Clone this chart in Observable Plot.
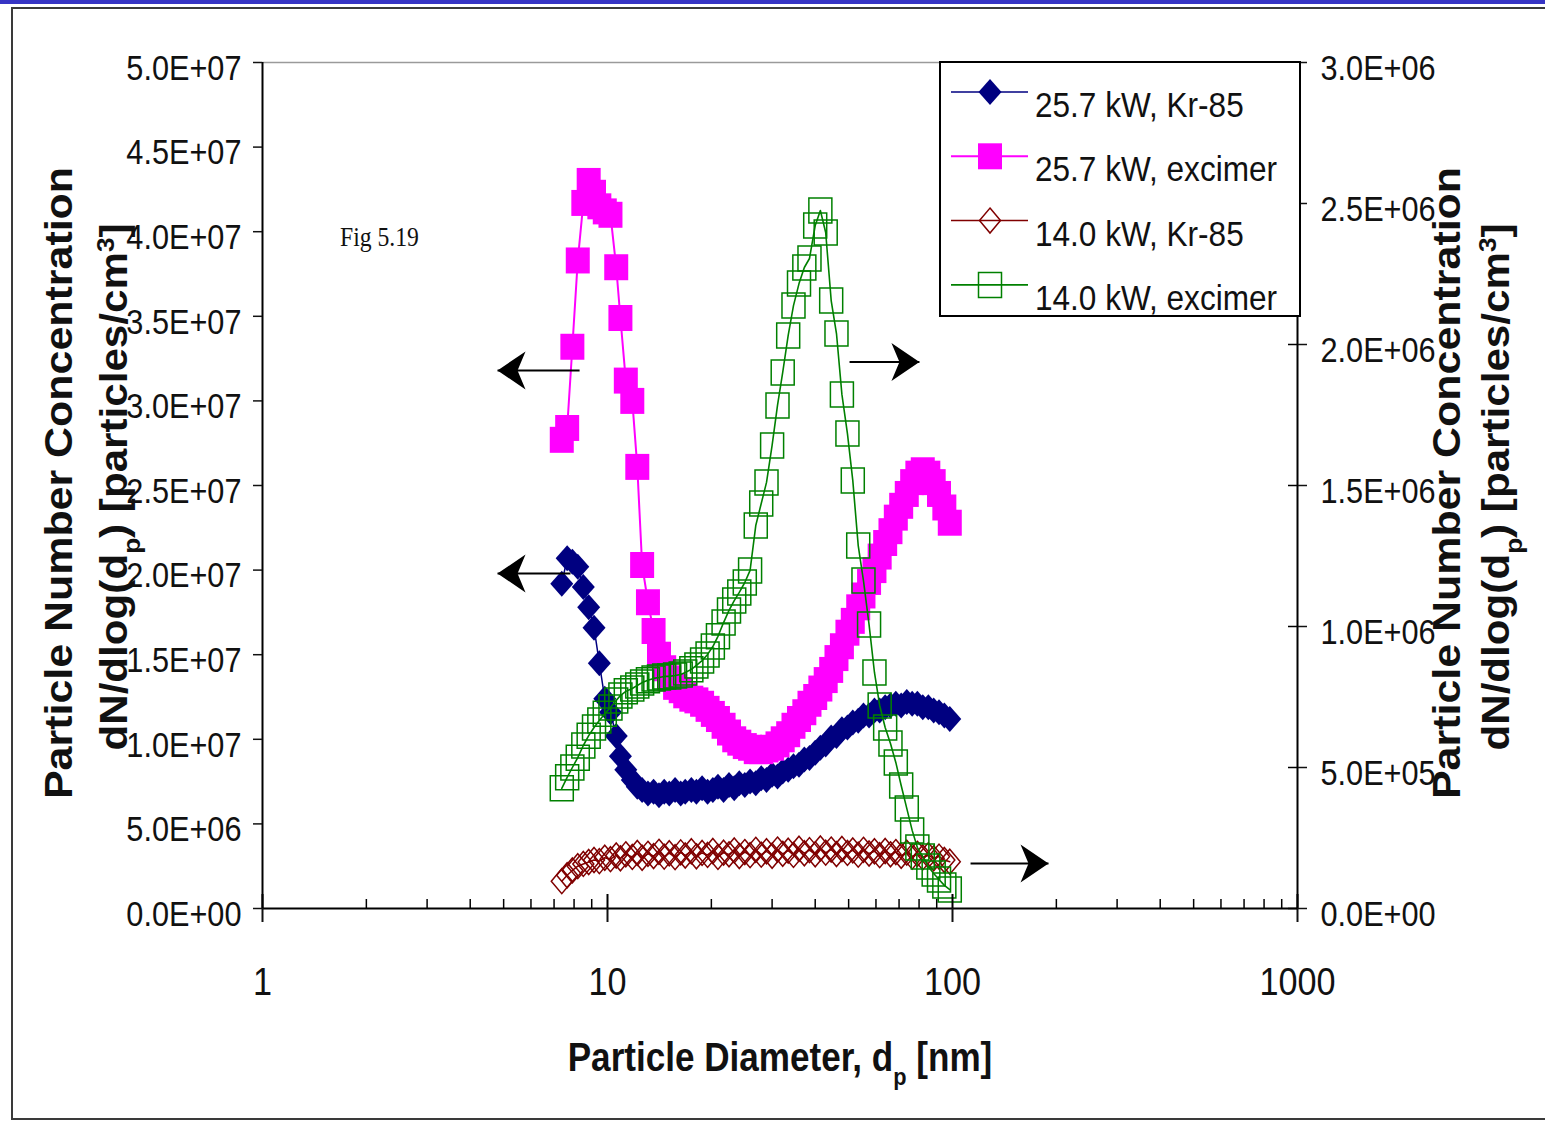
<!DOCTYPE html>
<html>
<head>
<meta charset="utf-8">
<script src="https://cdn.jsdelivr.net/npm/d3@7"></script>
<script src="https://cdn.jsdelivr.net/npm/@observablehq/plot@0.6"></script>
<style>
  html, body { margin: 0; padding: 0; background: #fff; overflow: hidden; }
  #page { position: relative; width: 1545px; height: 1121px; overflow: hidden; background: #fff; }
  #topbar { position: absolute; left: 0; top: 0; width: 1545px; height: 4px; background: #3634c4; }
  #border { position: absolute; left: 11px; top: 7px; width: 1600px; height: 1113px; border: 2px solid #3a3a3a; box-sizing: border-box; }
  #chart { position: absolute; left: 0; top: 0; }
</style>
</head>
<body>
<div id="page">
  <div id="topbar"></div>
  <div id="border"></div>
  <div id="chart"></div>
</div>
<script>
// SMPS channel mid-point diameters, nm
const diameters = [7.37, 7.64, 7.91, 8.2, 8.51, 8.82, 9.14, 9.47, 9.82, 10.2,
  10.6, 10.9, 11.3, 11.8, 12.2, 12.6, 13.1, 13.6, 14.1, 14.6,
  15.1, 15.7, 16.3, 16.8, 17.5, 18.1, 18.8, 19.5, 20.2, 20.9,
  21.7, 22.5, 23.3, 24.1, 25.0, 25.9, 26.9, 27.9, 28.9, 30.0,
  31.1, 32.2, 33.4, 34.6, 35.9, 37.2, 38.5, 40.0, 41.4, 42.9,
  44.5, 46.1, 47.8, 49.6, 51.4, 53.3, 55.2, 57.3, 59.4, 61.5,
  63.8, 66.1, 68.5, 71.0, 73.7, 76.4, 79.1, 82.0, 85.1, 88.2,
  91.4, 94.7, 98.2];

// dN/dlog(dp), in 10^6 particles/cm3
const kr85_257kW = [19.2, 20.7, 20.5, 20.2, 19.0, 17.8, 16.6, 14.5, 12.4, 11.6,
  10.2, 9.0, 8.2, 7.6, 7.2, 7.0, 6.8, 6.9, 6.7, 6.9,
  6.8, 7.0, 6.8, 6.9, 7.0, 6.9, 7.1, 6.9, 7.0, 7.2,
  7.0, 7.3, 7.1, 7.4, 7.3, 7.5, 7.4, 7.7, 7.6, 7.9,
  7.8, 8.1, 8.2, 8.4, 8.5, 8.8, 8.9, 9.2, 9.5, 9.7,
  10.1, 10.2, 10.6, 10.7, 11.0, 11.1, 11.4, 11.4, 11.7, 11.7,
  11.9, 12.0, 12.1, 12.0, 12.2, 12.1, 12.1, 11.9, 11.9, 11.7,
  11.6, 11.4, 11.2];

const excimer_257kW = [27.7, 28.4, 33.2, 38.3, 41.7, 43.0, 42.3, 41.5, 41.2, 41.0,
  37.9, 34.9, 31.2, 30.0, 26.1, 20.3, 18.1, 16.4, 15.0, 14.2,
  13.6, 13.1, 12.9, 12.6, 12.4, 12.3, 12.1, 11.8, 11.5, 11.2,
  10.8, 10.4, 10.0, 9.8, 9.6, 9.5, 9.3, 9.3, 9.4, 9.5,
  9.7, 10.0, 10.3, 10.8, 11.2, 11.6, 12.1, 12.5, 13.0, 13.5,
  14.1, 14.8, 15.5, 16.3, 17.0, 17.8, 18.5, 19.3, 20.0, 20.8,
  21.6, 22.3, 23.1, 23.8, 24.5, 25.2, 25.7, 25.9, 25.7, 25.2,
  24.5, 23.7, 22.8];

const kr85_140kW = [0.097, 0.118, 0.135, 0.150, 0.158, 0.165, 0.172, 0.168, 0.180, 0.175,
  0.188, 0.178, 0.192, 0.183, 0.197, 0.180, 0.194, 0.186, 0.201, 0.184,
  0.196, 0.182, 0.199, 0.188, 0.203, 0.185, 0.197, 0.190, 0.204, 0.183,
  0.198, 0.192, 0.206, 0.186, 0.200, 0.189, 0.208, 0.191, 0.203, 0.187,
  0.209, 0.194, 0.205, 0.190, 0.212, 0.196, 0.207, 0.192, 0.213, 0.198,
  0.209, 0.193, 0.211, 0.197, 0.206, 0.191, 0.208, 0.195, 0.203, 0.189,
  0.204, 0.192, 0.200, 0.187, 0.198, 0.184, 0.194, 0.181, 0.189, 0.178,
  0.184, 0.172, 0.166];

const excimer_140kW = [0.426, 0.465, 0.500, 0.535, 0.578, 0.613, 0.642, 0.667, 0.691, 0.713,
  0.738, 0.755, 0.770, 0.780, 0.791, 0.801, 0.809, 0.816, 0.819, 0.823,
  0.823, 0.826, 0.830, 0.837, 0.848, 0.862, 0.879, 0.901, 0.929, 0.965,
  1.014, 1.057, 1.092, 1.121, 1.156, 1.199, 1.358, 1.436, 1.511, 1.642,
  1.784, 1.901, 2.032, 2.138, 2.216, 2.273, 2.305, 2.422, 2.475, 2.397,
  2.156, 2.039, 1.823, 1.684, 1.518, 1.287, 1.163, 1.007, 0.837, 0.720,
  0.642, 0.585, 0.518, 0.436, 0.355, 0.277, 0.216, 0.184, 0.149, 0.124,
  0.103, 0.082, 0.067];

const UNIT = 1e6;

// axis ticks
const xMajorTicks = [1, 10, 100, 1000];
const xMinorTicks = [2, 3, 4, 5, 6, 7, 8, 9, 20, 30, 40, 50, 60, 70, 80, 90, 200, 300, 400, 500, 600, 700, 800, 900];
const leftTicks = [0, 5e6, 1e7, 1.5e7, 2e7, 2.5e7, 3e7, 3.5e7, 4e7, 4.5e7, 5e7];
const rightTicks = [0, 5e5, 1e6, 1.5e6, 2e6, 2.5e6, 3e6];

// direction arrows: from / to diameter (nm), height on the left-axis scale
const arrowFrom = [8.30, 7.81, 50.3, 112.8];
const arrowTo = [4.80, 4.80, 80.2, 189.8];
const arrowLevel = [3.18e7, 1.98e7, 3.23e7, 2.66e6];

const LEFT_MAX = 5e7, RIGHT_MAX = 3e6;
const R2L = LEFT_MAX / RIGHT_MAX;   // right-axis value -> left-axis position

// marker shapes
const diamondSolid = {draw(c) { c.moveTo(0, -13); c.lineTo(11.5, 0); c.lineTo(0, 13); c.lineTo(-11.5, 0); c.closePath(); }};
const diamondOpen = {draw(c) { c.moveTo(0, -12.5); c.lineTo(10.5, 0); c.lineTo(0, 12.5); c.lineTo(-10.5, 0); c.closePath(); }};
const squareSolid = {draw(c) { c.moveTo(-12, -13); c.lineTo(12, -13); c.lineTo(12, 13); c.lineTo(-12, 13); c.closePath(); }};
const squareOpen = {draw(c) { c.moveTo(-11.5, -12.5); c.lineTo(11.5, -12.5); c.lineTo(11.5, 12.5); c.lineTo(-11.5, 12.5); c.closePath(); }};
const headRight = {draw(c) { c.moveTo(0, 0); c.lineTo(-28, -19); c.lineTo(-20, 0); c.lineTo(-28, 19); c.closePath(); }};
const headLeft = {draw(c) { c.moveTo(0, 0); c.lineTo(28, -19); c.lineTo(20, 0); c.lineTo(28, 19); c.closePath(); }};

const series = [
  {name: "25.7 kW, Kr-85", values: kr85_257kW, axis: "left", color: "#000080", symbol: diamondSolid, filled: true, width: 1.5},
  {name: "25.7 kW, excimer", values: excimer_257kW, axis: "left", color: "#ff00ff", symbol: squareSolid, filled: true, width: 2},
  {name: "14.0 kW, Kr-85", values: kr85_140kW, axis: "right", color: "#800000", symbol: diamondOpen, filled: false, width: 1.5},
  {name: "14.0 kW, excimer", values: excimer_140kW, axis: "right", color: "#008000", symbol: squareOpen, filled: false, width: 1.6}
];

function sci(v) {
  if (Math.abs(v) < 1e-6) return "0.0E+00";
  const e = Math.floor(Math.log10(v) + 1e-9);
  const m = v / Math.pow(10, e);
  return `${m.toFixed(1)}E+${String(e).padStart(2, "0")}`;
}

const W = 1545, H = 1121;
const M = {left: 262, right: 248, top: 62, bottom: 213};
const frameH = H - M.top - M.bottom;
const frameW = W - M.left - M.right;
const FONT = "'Liberation Sans', Arial, sans-serif";
const NARROW = 0.877;   // horizontal text proportion

const marks = [];

// plot-area edges
marks.push(Plot.ruleY([LEFT_MAX], {stroke: "#9a9a9a", strokeWidth: 1.5}));
marks.push(Plot.ruleY([0], {stroke: "#000", strokeWidth: 2}));
marks.push(Plot.ruleX([1], {stroke: "#000", strokeWidth: 2}));
marks.push(Plot.ruleX([1000], {stroke: "#000", strokeWidth: 2}));

// series
for (const s of series) {
  const k = s.axis === "right" ? R2L : 1;
  const rows = diameters.map((d, i) => ({d, y: s.values[i] * UNIT * k}));
  marks.push(Plot.line(rows, {x: "d", y: "y", stroke: s.color, strokeWidth: s.width}));
  marks.push(Plot.dot(rows, {
    x: "d", y: "y", symbol: s.symbol,
    fill: s.filled ? s.color : "none",
    stroke: s.filled ? "none" : s.color,
    strokeWidth: s.filled ? 0 : 1.5
  }));
}

// arrows pointing to the axis each pair of curves is read on
const arrows = arrowFrom.map((f, i) => ({from: f, to: arrowTo[i], level: arrowLevel[i]}));
marks.push(Plot.link(arrows, {x1: "from", x2: "to", y1: "level", y2: "level", stroke: "#000", strokeWidth: 2}));
marks.push(Plot.dot(arrows.filter(a => a.to > a.from), {x: "to", y: "level", symbol: headRight, fill: "#000", stroke: "none"}));
marks.push(Plot.dot(arrows.filter(a => a.to < a.from), {x: "to", y: "level", symbol: headLeft, fill: "#000", stroke: "none"}));

// x axis: major ticks cross the axis, minor ticks point inwards
marks.push(Plot.axisX({ticks: xMajorTicks, tickSize: 14, tickPadding: 45, tickFormat: d => String(d), fontSize: 39, label: null, strokeWidth: 2}));
marks.push(Plot.tickX(xMajorTicks, {x: d => d, insetTop: frameH - 14, stroke: "#000", strokeWidth: 2}));
marks.push(Plot.tickX(xMinorTicks, {x: d => d, insetTop: frameH - 9, stroke: "#000", strokeWidth: 1.5}));

// left axis
marks.push(Plot.axisY({anchor: "left", ticks: leftTicks, tickSize: 9, tickPadding: 12, tickFormat: sci, fontSize: 35, label: null, strokeWidth: 1.5}));

// right axis, ticks crossing the axis line
const rightPos = rightTicks.map(v => v * R2L);
marks.push(Plot.axisY({anchor: "right", ticks: rightPos, tickSize: 9, tickPadding: 14, tickFormat: v => sci(v / R2L), fontSize: 35, label: null, strokeWidth: 1.5}));
marks.push(Plot.tickY(rightPos, {y: d => d, insetLeft: frameW - 9, stroke: "#000", strokeWidth: 1.5}));

const chart = Plot.plot({
  width: W, height: H,
  marginLeft: M.left, marginRight: M.right, marginTop: M.top, marginBottom: M.bottom,
  x: {type: "log", domain: [1, 1000], axis: null},
  y: {domain: [0, LEFT_MAX], axis: null},
  style: {fontFamily: FONT, color: "#111", background: "transparent", overflow: "visible"},
  marks
});
document.getElementById("chart").appendChild(chart);

const svg = d3.select(chart);

// narrow the tick labels horizontally around their anchor
function squeeze(sel, k, dy = 0) {
  sel.each(function () {
    const x = this.getAttribute("x");
    const tr = this.getAttribute("transform") || "";
    let px = 0;
    if (x != null && !isNaN(+x)) { px = +x; this.removeAttribute("x"); }
    this.setAttribute("transform", `${tr} translate(${px},${dy}) scale(${k},1)`);
  });
}
squeeze(svg.selectAll('g[aria-label="x-axis tick label"] text'), NARROW);
squeeze(svg.selectAll('g[aria-label="y-axis tick label"] text'), NARROW, 6);

// text with sub/superscripts
function richText(parent, parts, attrs) {
  const t = parent.append("text");
  for (const [k, v] of Object.entries(attrs)) t.attr(k, v);
  for (const [str, kind] of parts) {
    const ts = t.append("tspan").text(str);
    if (kind) ts.attr("baseline-shift", kind).attr("font-size", "62%");
  }
  return t;
}

const titles = svg.append("g").attr("fill", "#111").attr("font-weight", "bold")
  .attr("font-family", FONT).attr("text-anchor", "middle");

const yLine1 = [["Particle Number Concentration"]];
const yLine2 = [["dN/dlog(d"], ["p", "sub"], [") [particles/cm"], ["3", "super"], ["]"]];

richText(titles, yLine1, {transform: "translate(72,483) rotate(-90) scale(1.13,1)", "font-size": 38});
richText(titles, yLine2, {transform: "translate(127,487) rotate(-90) scale(1.11,1)", "font-size": 38});
richText(titles, yLine1, {transform: "translate(1460,483) rotate(-90) scale(1.13,1)", "font-size": 38});
richText(titles, yLine2, {transform: "translate(1509,487) rotate(-90) scale(1.11,1)", "font-size": 38});
richText(titles, [["Particle Diameter, d"], ["p", "sub"], [" [nm]"]], {transform: `translate(780,1071) scale(${NARROW},1)`, "font-size": 40});

// legend
const lg = svg.append("g").attr("text-anchor", "start");
lg.append("rect").attr("x", 940).attr("y", 62).attr("width", 360).attr("height", 254)
  .attr("fill", "#fff").attr("stroke", "#000").attr("stroke-width", 2);
series.forEach((s, i) => {
  const cy = 92 + i * 64.3;
  lg.append("line").attr("x1", 951).attr("x2", 1028).attr("y1", cy).attr("y2", cy)
    .attr("stroke", s.color).attr("stroke-width", s.width);
  lg.append("path").attr("transform", `translate(990,${cy})`).attr("d", d3.symbol(s.symbol)())
    .attr("fill", s.filled ? s.color : "none").attr("stroke", s.filled ? "none" : s.color).attr("stroke-width", 1.5);
  lg.append("text").attr("transform", `translate(1035,${cy + 25}) scale(${NARROW},1)`)
    .attr("font-family", FONT).attr("font-size", 36).attr("fill", "#111")
    .text(s.name);
});

// figure tag
svg.append("text").attr("text-anchor", "start")
  .attr("transform", `translate(340,246) scale(${NARROW},1)`)
  .attr("font-family", "'Liberation Serif', 'Times New Roman', serif").attr("font-size", 27).attr("fill", "#111")
  .text("Fig 5.19");
</script>
</body>
</html>
